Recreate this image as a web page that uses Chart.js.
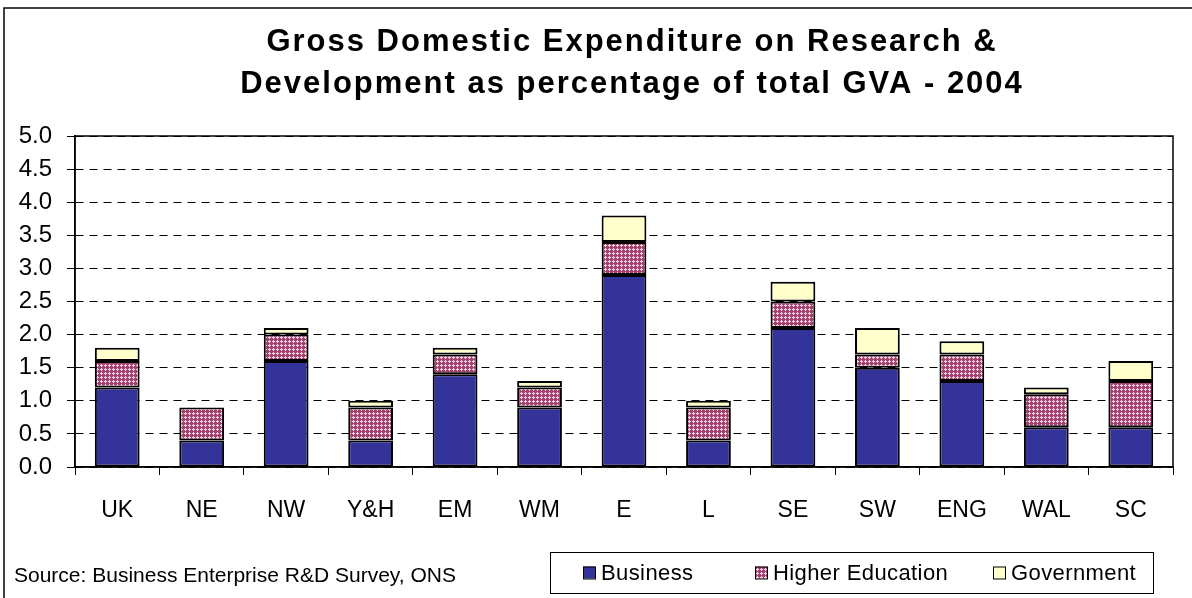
<!DOCTYPE html>
<html>
<head>
<meta charset="utf-8">
<title>GERD as percentage of GVA - 2004</title>
<script src="https://cdn.jsdelivr.net/npm/chart.js@4/dist/chart.umd.min.js"></script>
<style>
  html, body { margin: 0; padding: 0; background: #fff; }
  #wrap { width: 1192px; height: 598px; position: relative; }
</style>
</head>
<body>
<div id="wrap"><canvas id="gerdChart" width="1192" height="598"></canvas></div>
<script>
// regions and R&D spend by sector, % of total GVA
const regions = ['UK', 'NE', 'NW', 'Y&H', 'EM', 'WM', 'E', 'L', 'SE', 'SW', 'ENG', 'WAL', 'SC'];
const business = [1.2, 0.4, 1.6, 0.4, 1.4, 0.9, 2.9, 0.4, 2.1, 1.5, 1.3, 0.6, 0.6];
const higherEducation = [0.4, 0.5, 0.4, 0.5, 0.3, 0.3, 0.5, 0.5, 0.4, 0.2, 0.4, 0.5, 0.7];
const government = [0.2, 0.0, 0.1, 0.1, 0.1, 0.1, 0.4, 0.1, 0.3, 0.4, 0.2, 0.1, 0.3];
const yTicks = [0, 0.5, 1, 1.5, 2, 2.5, 3, 3.5, 4, 4.5, 5];

const titleLines = ['Gross Domestic Expenditure on Research &', 'Development as percentage of total GVA - 2004'];
const sourceNote = 'Source: Business Enterprise R&D Survey, ONS';
const FONT = '"Liberation Sans", Arial, sans-serif';

// little crosshatch tile for the higher education segments
function makeHatch() {
    const c = document.createElement('canvas');
    c.width = 4; c.height = 4;
    const g = c.getContext('2d');
    g.fillStyle = '#a3426f';
    g.fillRect(0, 0, 4, 4);
    g.fillStyle = '#f3d3e3';
    [[1, 0], [0, 1], [1, 1], [2, 1], [1, 2]].forEach(p => g.fillRect(p[0], p[1], 1, 1));
    return g.createPattern(c, 'repeat');
}
const hatch = makeHatch();

// frame, title, plot border, source note and boxed legend
const decorations = {
    id: 'decorations',
    beforeDraw(chart) {
        const ctx = chart.ctx;
        ctx.save();
        ctx.fillStyle = '#fff';
        ctx.fillRect(0, 0, chart.width, chart.height);
        ctx.strokeStyle = '#000';
        ctx.lineWidth = 1.5;
        ctx.beginPath();
        ctx.moveTo(4, chart.height);
        ctx.lineTo(4, 8);
        ctx.lineTo(chart.width, 8);
        ctx.stroke();
        ctx.restore();
    },
    afterDraw(chart) {
        const ctx = chart.ctx;
        const area = chart.chartArea;
        ctx.save();

        // outline of the plot area
        ctx.strokeStyle = '#000';
        ctx.lineWidth = 1.5;
        ctx.strokeRect(area.left, area.top, area.right - area.left, area.bottom - area.top);

        // title
        ctx.fillStyle = '#000';
        ctx.font = 'bold 31px ' + FONT;
        ctx.letterSpacing = '2px';
        ctx.textAlign = 'center';
        ctx.textBaseline = 'alphabetic';
        titleLines.forEach((t, i) => ctx.fillText(t, 632, 51 + i * 42));

        // source note
        ctx.font = '21px ' + FONT;
        ctx.letterSpacing = '0px';
        ctx.textAlign = 'left';
        ctx.fillText(sourceNote, 14, 582);

        // legend box
        const box = { x: 550, y: 552, w: 603, h: 41 };
        ctx.lineWidth = 1;
        ctx.strokeStyle = '#000';
        ctx.strokeRect(box.x + 0.5, box.y + 0.5, box.w, box.h);
        ctx.font = '22px ' + FONT;
        ctx.letterSpacing = '0.4px';
        ctx.textBaseline = 'middle';
        const itemX = [583, 755, 993];
        chart.data.datasets.forEach((ds, i) => {
            const x = itemX[i];
            const cy = box.y + box.h / 2;
            ctx.fillStyle = ds.backgroundColor;
            ctx.fillRect(x, cy - 6, 12, 12);
            ctx.strokeStyle = '#000';
            ctx.lineWidth = 1;
            ctx.strokeRect(x + 0.5, cy - 5.5, 12, 12);
            ctx.fillStyle = '#000';
            ctx.fillText(ds.label, x + 18, cy + 1);
        });
        ctx.restore();
    }
};

const ctx = document.getElementById('gerdChart').getContext('2d');
const gerdChart = new Chart(ctx, {
    type: 'bar',
    data: {
        labels: regions,
        datasets: [{
            label: 'Business',
            data: business,
            backgroundColor: '#333399'
        }, {
            label: 'Higher Education',
            data: higherEducation,
            backgroundColor: hatch
        }, {
            label: 'Government',
            data: government,
            backgroundColor: '#ffffcc'
        }]
    },
    options: {
        responsive: false,
        animation: false,
        devicePixelRatio: 1,
        layout: { padding: { left: 0, right: 19, top: 136, bottom: 0 } },
        datasets: {
            bar: {
                borderColor: '#000',
                borderWidth: 2,
                borderSkipped: false,
                categoryPercentage: 1,
                barPercentage: 0.53
            }
        },
        plugins: {
            legend: { display: false },
            title: { display: false },
            tooltip: { enabled: false }
        },
        scales: {
            x: {
                stacked: true,
                afterFit(scale) { scale.height = 131; },
                grid: {
                    drawOnChartArea: false,
                    color: '#000',
                    tickLength: 8,
                    offset: true
                },
                border: { color: '#000', width: 1.5 },
                ticks: {
                    color: '#000',
                    padding: 22,
                    font: { family: FONT, size: 23 }
                }
            },
            y: {
                stacked: true,
                min: 0,
                max: 5,
                afterFit(scale) { scale.width = 75; },
                afterBuildTicks(scale) { scale.ticks = yTicks.map(v => ({ value: v })); },
                grid: {
                    color: '#000',
                    lineWidth: 1,
                    tickLength: 8
                },
                border: { color: '#000', width: 1.5, dash: [8, 6] },
                ticks: {
                    color: '#000',
                    padding: 15,
                    font: { family: FONT, size: 24 },
                    callback: v => v.toFixed(1)
                }
            }
        }
    },
    plugins: [decorations]
});
</script>
</body>
</html>
